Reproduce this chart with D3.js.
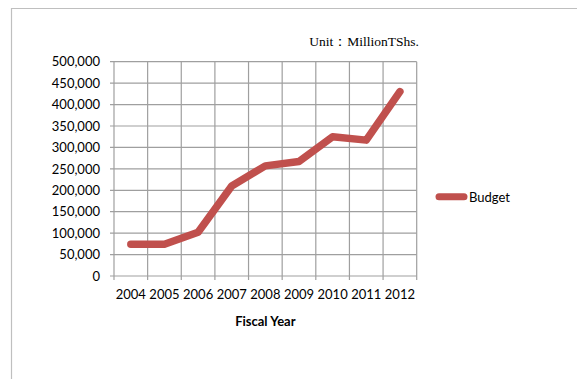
<!DOCTYPE html>
<html><head><meta charset="utf-8">
<script src="https://cdn.jsdelivr.net/npm/d3@7/dist/d3.min.js"></script>
<style>body{margin:0;background:#fff;}svg{display:block;}</style>
</head><body>
<svg id="chart" width="577" height="379"></svg>
<script>
const years = ["2004","2005","2006","2007","2008","2009","2010","2011","2012"];
const budget = [74000, 74000, 102000, 210000, 257000, 267000, 325000, 317000, 430000];
const yTicks = [0,50000,100000,150000,200000,250000,300000,350000,400000,450000,500000];
const seriesName = "Budget";
const unitLabel = "Unit\uFF1AMillionTShs.";
const xTitle = "Fiscal Year";

(function () {
const svg = d3.select("#chart");
const font = "Lato, 'Open Sans', sans-serif";
const pL = 114, pR = 416.7, pT = 61.7, pB = 276;

// outer frame
svg.append("path").attr("d", "M11.5,379 V8.5 H577")
  .attr("fill","none").attr("stroke","#bfbfbf").attr("stroke-width",1.2);

const x = d3.scaleBand().domain(years).range([pL, pR]);
const y = d3.scaleLinear().domain([0, 500000]).range([pB, pT]);

// horizontal gridlines
svg.append("g").selectAll("line").data(yTicks).join("line")
  .attr("x1", pL - 4).attr("x2", pR)
  .attr("y1", d => y(d)).attr("y2", d => y(d))
  .attr("stroke", "#9f9f9f").attr("stroke-width", 1.2);

// vertical gridlines (category boundaries)
const bounds = years.map(d => x(d)).concat([pR]);
svg.append("g").selectAll("line").data(bounds).join("line")
  .attr("x1", d => d).attr("x2", d => d)
  .attr("y1", pT).attr("y2", pB + 4)
  .attr("stroke", "#9f9f9f").attr("stroke-width", 1.2);

// y axis labels
const yAxis = d3.axisLeft(y).tickValues(yTicks).tickSize(0).tickPadding(0)
  .tickFormat(d3.format(","));
const gy = svg.append("g").attr("transform", `translate(${pL - 14},0)`).call(yAxis);
gy.select(".domain").remove();
gy.selectAll("text").attr("font-family", font).attr("font-size", 13).attr("fill", "#000");

// x axis labels
const xAxis = d3.axisBottom(x).tickSize(0).tickPadding(0);
const gx = svg.append("g").attr("transform", `translate(0,${pB + 14})`).call(xAxis);
gx.select(".domain").remove();
gx.selectAll("text").attr("font-family", font).attr("font-size", 13).attr("fill", "#000");

// line
const line = d3.line().x((d, i) => x(years[i]) + x.bandwidth() / 2).y(d => y(d));
svg.append("path").datum(budget).attr("d", line)
  .attr("fill", "none").attr("stroke", "#c0504d").attr("stroke-width", 7.5)
  .attr("stroke-linecap", "round").attr("stroke-linejoin", "round");

// titles
svg.append("text").attr("x", (pL + pR) / 2).attr("y", 326)
  .attr("text-anchor", "middle").attr("font-family", font).attr("font-weight", "bold")
  .attr("font-size", 13).text(xTitle);

svg.append("text").attr("x", 419).attr("y", 46).attr("text-anchor", "end")
  .attr("font-family", "'Liberation Serif', 'Times New Roman', serif").attr("font-size", 13.5)
  .text(unitLabel);

// legend
svg.append("line").attr("x1", 439).attr("x2", 464).attr("y1", 196.7).attr("y2", 196.7)
  .attr("stroke", "#c0504d").attr("stroke-width", 7).attr("stroke-linecap", "round");
svg.append("text").attr("x", 469).attr("y", 201.5).attr("font-family", font)
  .attr("font-size", 13).text(seriesName);
})();
</script>
</body></html>
